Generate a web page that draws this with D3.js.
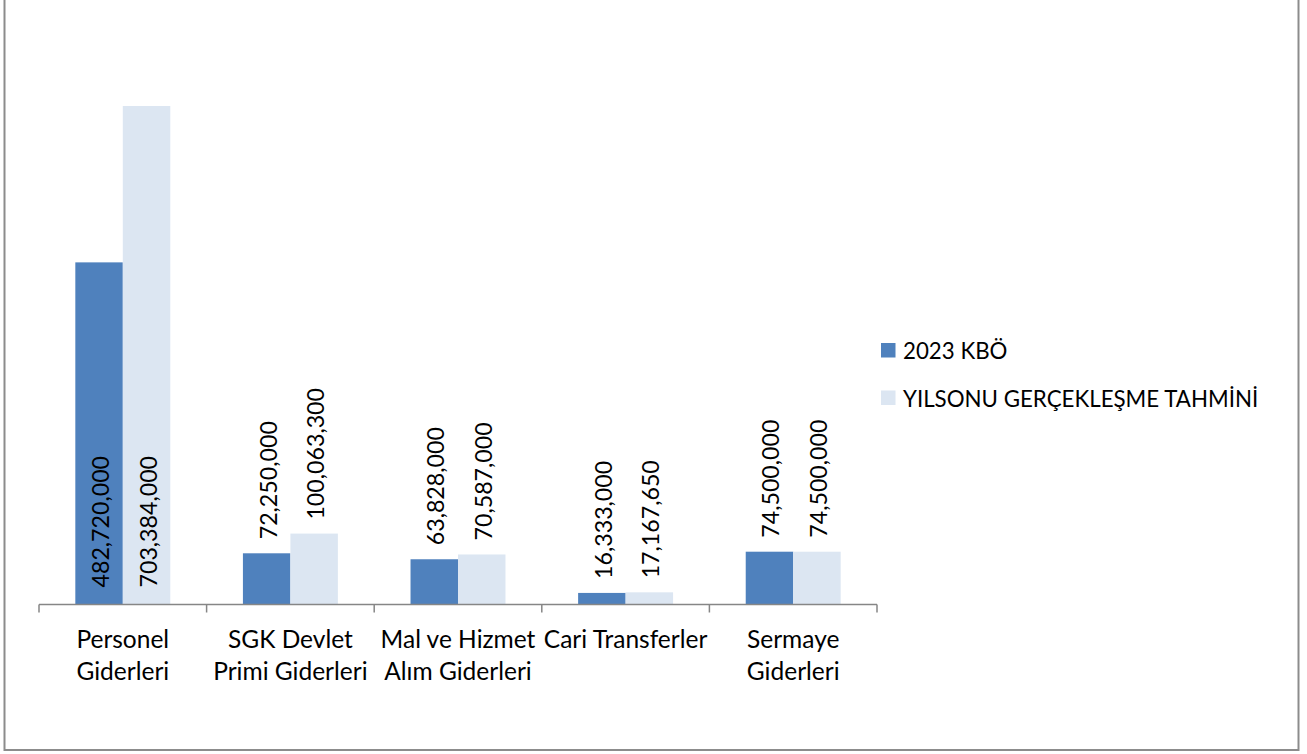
<!DOCTYPE html>
<html>
<head>
<meta charset="utf-8">
<script src="https://cdn.jsdelivr.net/npm/d3@7"></script>
<style>
  body { margin: 0; background: #fff; }
  svg { display: block; font-family: Lato, "Open Sans", sans-serif; }
</style>
</head>
<body>
<svg id="chart" width="1307" height="754"></svg>
<script>
var categories = ["Personel\nGiderleri", "SGK Devlet\nPrimi Giderleri", "Mal ve Hizmet\nAlım Giderleri", "Cari Transferler", "Sermaye\nGiderleri"];
var seriesNames = ["2023 KBÖ", "YILSONU GERÇEKLEŞME TAHMİNİ"];
var kbo2023 = [482720000, 72250000, 63828000, 16333000, 74500000];
var yilsonu = [703384000, 100063300, 70587000, 17167650, 74500000];
var colors = ["#4F81BD", "#DCE6F2"];

var svg = d3.select("#chart");
var plot = { left: 39, right: 877, top: 37.5, bottom: 604.5 };

// outer frame
svg.append("rect")
  .attr("x", 4.5).attr("y", -3)
  .attr("width", 1294).attr("height", 753)
  .attr("fill", "none").attr("stroke", "#8c8c8c").attr("stroke-width", 2);

var x0 = d3.scaleBand().domain(d3.range(categories.length))
  .range([plot.left, plot.right]).paddingInner(0).paddingOuter(0);
var x1 = d3.scaleBand().domain([0, 1])
  .range([0, x0.bandwidth()]).paddingInner(0).paddingOuter(0.765);
var y = d3.scaleLinear().domain([0, 800000000]).range([plot.bottom, plot.top]);

var fmt = d3.format(",");
var series = [kbo2023, yilsonu];

var groups = svg.selectAll("g.cat")
  .data(categories)
  .enter()
  .append("g")
  .attr("class", "cat")
  .attr("transform", function (d, i) { return "translate(" + x0(i) + ",0)"; });

series.forEach(function (vals, s) {
  groups.append("rect")
    .attr("x", x1(s))
    .attr("y", function (d, i) { return y(vals[i]); })
    .attr("width", x1.bandwidth())
    .attr("height", function (d, i) { return plot.bottom - y(vals[i]); })
    .attr("fill", colors[s]);

  groups.append("text")
    .text(function (d, i) { return fmt(vals[i]); })
    .attr("transform", function (d, i) {
      var v = vals[i];
      // tall bars: label sits inside near the base
      var yy = (v > 400000000) ? plot.bottom - 17 : y(v) - 14;
      return "translate(" + (x1(s) + x1.bandwidth() / 2 + 10) + "," + yy + ") rotate(-90)";
    })
    .attr("font-size", 23.2)
    .attr("fill", "#000");
});

// axis
var axis = svg.append("g");
axis.append("line")
  .attr("x1", plot.left).attr("x2", plot.right)
  .attr("y1", plot.bottom).attr("y2", plot.bottom)
  .attr("stroke", "#868686").attr("stroke-width", 1.5);
axis.selectAll("line.tick")
  .data(d3.range(categories.length + 1))
  .enter()
  .append("line")
  .attr("x1", function (d) { return plot.left + d * x0.bandwidth(); })
  .attr("x2", function (d) { return plot.left + d * x0.bandwidth(); })
  .attr("y1", plot.bottom).attr("y2", plot.bottom + 8)
  .attr("stroke", "#868686").attr("stroke-width", 1.5);

groups.append("text")
  .attr("text-anchor", "middle")
  .attr("font-size", 24.5)
  .attr("fill", "#000")
  .each(function (d) {
    var t = d3.select(this);
    d.split("\n").forEach(function (line, k) {
      t.append("tspan")
        .attr("x", x0.bandwidth() / 2)
        .attr("y", 648 + k * 32)
        .text(line);
    });
  });

// legend
var legend = svg.selectAll("g.leg")
  .data(seriesNames)
  .enter()
  .append("g")
  .attr("class", "leg")
  .attr("transform", function (d, i) { return "translate(881," + (343 + i * 47.5) + ")"; });
legend.append("rect")
  .attr("width", 14.5).attr("height", 14.5)
  .attr("fill", function (d, i) { return colors[i]; });
legend.append("text")
  .attr("x", 22).attr("y", 16)
  .attr("font-size", 22.3)
  .attr("fill", "#000")
  .text(function (d) { return d; });
</script>
</body>
</html>
